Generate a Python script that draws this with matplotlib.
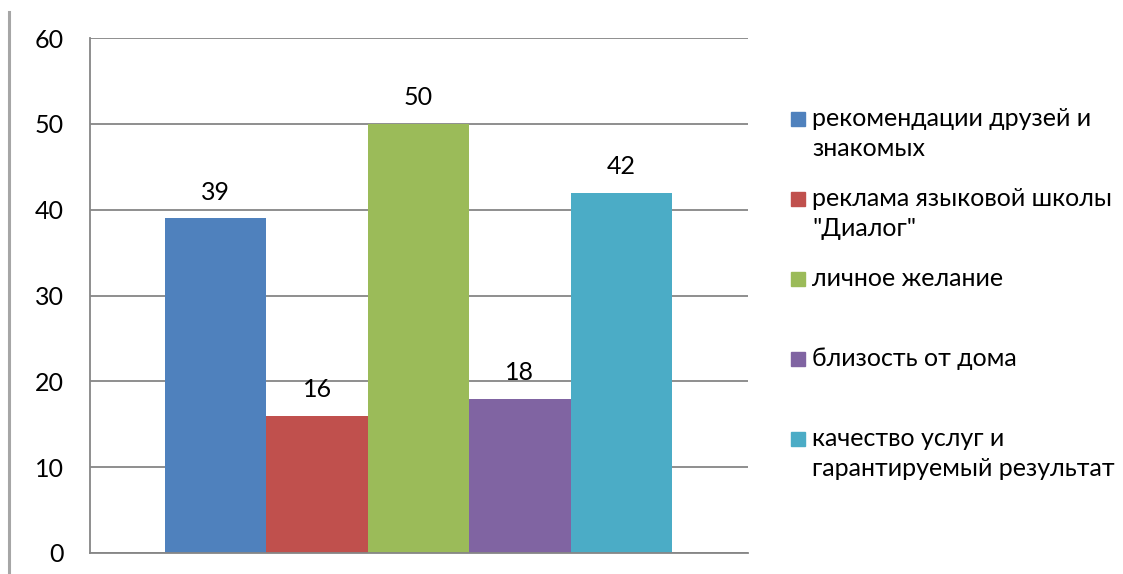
import numpy as np
import matplotlib as mpl
mpl.use('agg')
import matplotlib.pyplot as plt
from matplotlib.patches import Rectangle
from matplotlib.lines import Line2D

plt.rcParams['font.family'] = ['Lato', 'DejaVu Sans']

labels = ['рекомендации друзей и\nзнакомых',
          'реклама языковой школы\n"Диалог"',
          'личное желание',
          'близость от дома',
          'качество услуг и\nгарантируемый результат']
values = [39, 16, 50, 18, 42]
colors = ['#4F81BD', '#C0504D', '#9BBB59', '#8064A2', '#4BACC6']
yticks = [0, 10, 20, 30, 40, 50, 60]

W, H = 1123, 574
fig = plt.figure(figsize=(W / 100, H / 100), dpi=100)
ax = fig.add_axes([90 / W, 1 - 553 / H, (748 - 90) / W, (553 - 38) / H])

FS = 18
GRID = '#868686'
x = np.arange(len(values))
bars = ax.bar(x, values, width=1.0, color=colors, zorder=2)
for xi, v in zip(x, values):
    ax.annotate(str(v), (xi, v), xytext=(0, 10.5), textcoords='offset points',
                ha='center', va='bottom', fontsize=FS)

ax.set_xlim(-0.5 - 75 / 101.4, len(values) - 0.5 + 76 / 101.4)
ax.set_ylim(0, 60)
ax.set_yticks(yticks)
ax.set_xticks([])
ax.yaxis.grid(True, color=GRID, lw=1.3, zorder=0)
ax.tick_params(axis='y', length=0, pad=19, labelsize=FS)
for s in ['top', 'right']:
    ax.spines[s].set_visible(False)
for s in ['left', 'bottom']:
    ax.spines[s].set_color(GRID)
    ax.spines[s].set_linewidth(1.3)

# outer gray line at the left edge
fig.add_artist(Line2D([9 / W, 9 / W], [0, 1 - 12 / H], color='#A6A6A6', lw=2.2))

# legend drawn by hand: one row every 80 px, wrapped lines 31 px apart
ROW0, ROW_STEP, LINE_STEP = 119, 80, 31
for i, (lab, c) in enumerate(zip(labels, colors)):
    yy = ROW0 + ROW_STEP * i
    fig.add_artist(Rectangle((791 / W, 1 - (yy + 7) / H), 14 / W, 14 / H,
                             color=c, transform=fig.transFigure))
    for j, line in enumerate(lab.split('\n')):
        fig.text(812 / W, 1 - (yy + 6.5 + LINE_STEP * j) / H, line,
                 fontsize=FS, va='baseline', ha='left')

plt.savefig('out.png', dpi=100)
